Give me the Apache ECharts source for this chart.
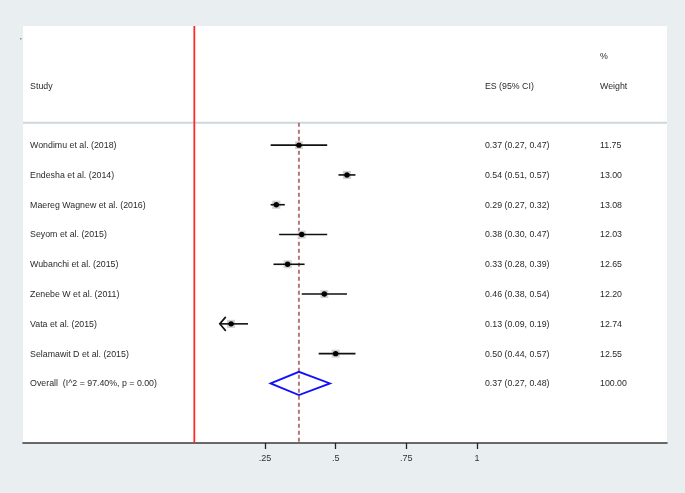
<!DOCTYPE html>
<html>
<head>
<meta charset="utf-8">
<script src="https://cdn.jsdelivr.net/npm/echarts@6/dist/echarts.min.js"></script>
<style>
html,body{margin:0;padding:0;background:#e9eff0;}
#chart{width:685px;height:493px;}
</style>
</head>
<body>
<div id="chart"></div>
<script>
// ---- data ----
const studies = ['Wondimu et al. (2018)','Endesha et al. (2014)','Maereg Wagnew et al. (2016)','Seyom et al. (2015)','Wubanchi et al. (2015)','Zenebe W et al. (2011)','Vata et al. (2015)','Selamawit D et al. (2015)'];
const es     = [0.37, 0.54, 0.29, 0.38, 0.33, 0.46, 0.13, 0.50];
const lower  = [0.27, 0.51, 0.27, 0.30, 0.28, 0.38, 0.09, 0.44];
const upper  = [0.47, 0.57, 0.32, 0.47, 0.39, 0.54, 0.19, 0.57];
const weights = ['11.75','13.00','13.08','12.03','12.65','12.20','12.74','12.55'];
const leftArrow = [false,false,false,false,false,false,true,false];
const overallLabel = 'Overall  (I^2 = 97.40%, p = 0.00)';
const overallES = 0.37, overallLower = 0.27, overallUpper = 0.48;
const overallWeight = '100.00';
const xTicks = [0.25, 0.5, 0.75, 1];
const xTickLabels = ['.25', '.5', '.75', '1'];
const headerStudy = 'Study', headerES = 'ES (95% CI)', headerW1 = '%', headerW2 = 'Weight';

// ---- layout helpers (axis units) ----
const XMIN = -0.606, XMAX = 1.672;
const YMIN = -3, YMAX = 11;
const colStudy = -0.581, colES = 1.028, colW = 1.435;
const fmt = v => v.toFixed(2);
const FONT = '"Liberation Sans", Arial, sans-serif';

// text items
const texts = [];
texts.push([colStudy, -1, headerStudy]);
texts.push([colES, -1, headerES]);
texts.push([colW, -2, headerW1]);
texts.push([colW, -1, headerW2]);
studies.forEach((s, i) => {
  const row = i + 1;
  texts.push([colStudy, row, s]);
  texts.push([colES, row, fmt(es[i]) + ' (' + fmt(lower[i]) + ', ' + fmt(upper[i]) + ')']);
  texts.push([colW, row, weights[i]]);
});
const oRow = studies.length + 1;
texts.push([colStudy, oRow, overallLabel]);
texts.push([colES, oRow, fmt(overallES) + ' (' + fmt(overallLower) + ', ' + fmt(overallUpper) + ')']);
texts.push([colW, oRow, overallWeight]);

const studyData = studies.map((s, i) => [es[i], lower[i], upper[i], i + 1, parseFloat(weights[i]), leftArrow[i] ? 1 : 0]);

const chart = echarts.init(document.getElementById('chart'), null, {renderer: 'canvas'});
chart.setOption({
  backgroundColor: '#e9eff0',
  animation: false,
  grid: {left: 23, right: 18, top: 26, bottom: 50, show: true, backgroundColor: '#ffffff', borderWidth: 0},
  xAxis: {
    type: 'value', min: XMIN, max: XMAX,
    splitLine: {show: false},
    axisLine: {show: true, onZero: false, lineStyle: {color: '#3a3a3a', width: 1.6}},
    axisTick: {show: true, customValues: xTicks, length: 6, lineStyle: {color: '#222', width: 1.3}},
    axisLabel: {
      customValues: xTicks, margin: 11, fontSize: 9, color: '#333', fontFamily: FONT,
      formatter: v => { const k = xTicks.findIndex(t => Math.abs(t - v) < 1e-9); return k >= 0 ? xTickLabels[k] : ''; }
    }
  },
  yAxis: {type: 'value', inverse: true, min: YMIN, max: YMAX, show: false},
  graphic: [{type: 'rect', left: 20, top: 38, shape: {width: 1.5, height: 1.5}, style: {fill: '#8a93b0'}}],
  series: [
    { // header separator
      type: 'line', data: [[XMIN, 0.25], [XMAX, 0.25]], symbol: 'none', silent: true,
      lineStyle: {color: '#cdd7de', width: 2}, z: 2
    },
    { // null line at 0
      type: 'line', data: [[0, YMIN], [0, YMAX]], symbol: 'none', silent: true,
      lineStyle: {color: '#ff2a2a', width: 1.8}, z: 3
    },
    { // overall dashed line
      type: 'line', data: [[overallES, 0.25], [overallES, YMAX]], symbol: 'none', silent: true,
      lineStyle: {color: '#b67878', width: 2, type: [4, 3]}, z: 3
    },
    { // study CIs + boxes
      type: 'custom', z: 5, silent: true,
      data: studyData,
      encode: {x: [0, 1, 2], y: 3},
      renderItem: (params, api) => {
        const e = api.value(0), lo = api.value(1), hi = api.value(2), r = api.value(3), w = api.value(4), arr = api.value(5);
        const pe = api.coord([e, r]), pl = api.coord([lo, r]), ph = api.coord([hi, r]);
        const box = 8 * Math.sqrt(w / 12.5);
        const children = [
          {type: 'rect', shape: {x: pe[0] - box / 2, y: pe[1] - box / 2, width: box, height: box}, style: {fill: '#d2d2d2'}},
          {type: 'line', shape: {x1: pl[0], y1: pl[1], x2: ph[0], y2: ph[1]}, style: {stroke: '#111', lineWidth: 1.6}},
          {type: 'circle', shape: {cx: pe[0], cy: pe[1], r: 2.7}, style: {fill: '#000'}}
        ];
        if (arr) {
          children.push({type: 'polyline', shape: {points: [[pl[0] + 6, pl[1] - 7], [pl[0], pl[1]], [pl[0] + 6, pl[1] + 7]]}, style: {stroke: '#111', lineWidth: 1.6, fill: null}});
        }
        return {type: 'group', children};
      }
    },
    { // overall diamond
      type: 'custom', z: 5, silent: true,
      data: [[overallES, overallLower, overallUpper, oRow]],
      encode: {x: [0, 1, 2], y: 3},
      renderItem: (params, api) => {
        const e = api.value(0), lo = api.value(1), hi = api.value(2), r = api.value(3);
        const pts = [api.coord([lo, r]), api.coord([e, r - 0.39]), api.coord([hi, r]), api.coord([e, r + 0.39])];
        return {type: 'polygon', shape: {points: pts}, style: {stroke: '#1010ff', lineWidth: 1.8, fill: null}};
      }
    },
    { // texts
      type: 'custom', z: 6, silent: true,
      data: texts.map(t => [t[0], t[1]]),
      encode: {x: 0, y: 1},
      renderItem: (params, api) => {
        const p = api.coord([api.value(0), api.value(1)]);
        return {type: 'text', x: p[0], y: p[1] + 0.5, style: {text: texts[params.dataIndex][2], fill: '#2a2a2a', fontSize: 8.8, fontFamily: FONT, align: 'left', verticalAlign: 'middle'}};
      }
    }
  ]
});
</script>
</body>
</html>
